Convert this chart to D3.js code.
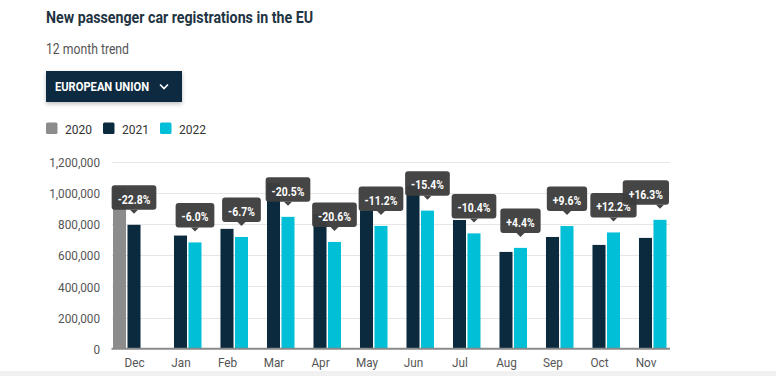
<!DOCTYPE html>
<html>
<head>
<meta charset="utf-8">
<script src="https://cdn.jsdelivr.net/npm/d3@7"></script>
<style>
  html, body { margin: 0; padding: 0; background: #fff; }
  svg { display: block; font-family: Roboto, "Noto Sans", sans-serif; }
</style>
</head>
<body>
<svg id="chart" width="776" height="376"></svg>
<script>
const months = ["Dec","Jan","Feb","Mar","Apr","May","Jun","Jul","Aug","Sep","Oct","Nov"];
const series = ["2020","2021","2022"];
const values2020 = [1029000, null, null, null, null, null, null, null, null, null, null, null];
const values2021 = [795000, 726000, 769000, 1064000, 863000, 887000, 1046000, 826000, 621000, 717000, 666000, 711000];
const values2022 = [null, 682000, 717000, 846000, 685000, 788000, 886000, 740000, 647000, 787000, 746000, 827000];
const changes = ["-22.8%","-6.0%","-6.7%","-20.5%","-20.6%","-11.2%","-15.4%","-10.4%","+4.4%","+9.6%","+12.2%","+16.3%"];
const yTicks = [0, 200000, 400000, 600000, 800000, 1000000, 1200000];
const colors = {"2020": "#8c8c8c", "2021": "#0b2a3d", "2022": "#00bfd6"};

const svg = d3.select("#chart");
const K = 0.87;
function condense(sel, k) {
  sel.each(function() {
    const w = this.getComputedTextLength();
    this.setAttribute("textLength", w * k);
    this.setAttribute("lengthAdjust", "spacingAndGlyphs");
  });
}

// Title & subtitle
svg.append("text").attr("x", 46).attr("y", 22.5)
  .attr("font-size", 16).attr("font-weight", 700).attr("fill", "#1f3443")
  .text("New passenger car registrations in the EU")
  .attr("textLength", 267).attr("lengthAdjust", "spacingAndGlyphs");
svg.append("text").attr("x", 46).attr("y", 54)
  .attr("font-size", 14).attr("fill", "#555")
  .text("12 month trend")
  .attr("textLength", 83).attr("lengthAdjust", "spacingAndGlyphs");

// Dropdown button
const defs = svg.append("defs");
const f = defs.append("filter").attr("id", "shadow").attr("x", "-10%").attr("y", "-20%").attr("width", "120%").attr("height", "150%");
f.append("feDropShadow").attr("dx", 0).attr("dy", 2).attr("stdDeviation", 2).attr("flood-color", "#000").attr("flood-opacity", 0.25);
svg.append("rect").attr("x", 46).attr("y", 71).attr("width", 136).attr("height", 31)
  .attr("fill", "#0b2b3f").attr("filter", "url(#shadow)");
svg.append("text").attr("x", 55).attr("y", 91).attr("font-size", 13).attr("font-weight", 700)
  .attr("fill", "#fff").text("EUROPEAN UNION")
  .attr("textLength", 94).attr("lengthAdjust", "spacingAndGlyphs");
svg.append("polyline").attr("points", "160,84.5 164,88.5 168,84.5")
  .attr("fill", "none").attr("stroke", "#fff").attr("stroke-width", 1.6);

// Legend
const legendX = [46, 103, 160];
series.forEach((s, i) => {
  svg.append("rect").attr("x", legendX[i]).attr("y", 122.5).attr("width", 11.5).attr("height", 11.5)
    .attr("rx", 1.5).attr("fill", colors[s]);
  svg.append("text").attr("x", legendX[i] + 19).attr("y", 133.5).attr("font-size", 13.5)
    .attr("fill", "#333").text(s).attr("textLength", 27).attr("lengthAdjust", "spacingAndGlyphs");
});

// Scales
const x0 = d3.scaleBand().domain(months).range([110.75, 668.75]).paddingInner(0.097).paddingOuter(0.0485);
const x1 = d3.scaleBand().domain(series).range([0, x0.bandwidth()]).paddingInner(0.1);
const y = d3.scaleLinear().domain([0, 1200000]).range([348.7, 161.7]);

// Gridlines
const plotLeft = 111.5, plotRight = 670;
svg.append("g").selectAll("line").data(yTicks.slice(1)).join("line")
  .attr("x1", plotLeft).attr("x2", plotRight)
  .attr("y1", d => Math.round(y(d)) + 0.5).attr("y2", d => Math.round(y(d)) + 0.5)
  .attr("stroke", "#e6e6e6").attr("stroke-width", 1);

// Y axis
const yAxis = svg.append("g").attr("transform", "translate(100,0)")
  .call(d3.axisLeft(y).tickValues(yTicks).tickSize(0).tickPadding(0).tickFormat(d3.format(",")));
yAxis.select(".domain").remove();
yAxis.selectAll("text").attr("font-size", 13.5).attr("fill", "#555").attr("font-family", "Roboto").attr("dy", "0.35em");
condense(yAxis.selectAll("text"), K);

// Bars
const rows = months.map((m, i) => ({month: m, "2020": values2020[i], "2021": values2021[i], "2022": values2022[i]}));
const groups = svg.append("g").selectAll("g").data(rows).join("g")
  .attr("transform", d => `translate(${x0(d.month)},0)`);
groups.selectAll("rect").data(d => series.map(s => ({s, v: d[s]})).filter(e => e.v != null)).join("rect")
  .attr("x", e => x1(e.s)).attr("width", x1.bandwidth())
  .attr("y", e => y(e.v)).attr("height", e => y(0) - y(e.v))
  .attr("fill", e => colors[e.s]);

// X axis line
svg.append("line").attr("x1", plotLeft).attr("x2", plotRight).attr("y1", 348.7).attr("y2", 348.7)
  .attr("stroke", "#8a8a8a").attr("stroke-width", 2);

// X axis labels (centered on middle slot)
const xAxis = svg.append("g").attr("transform", "translate(0,356)")
  .call(d3.axisBottom(d3.scalePoint().domain(months).range([x0(months[0]) + x1("2021") + x1.bandwidth()/2, x0(months[11]) + x1("2021") + x1.bandwidth()/2])).tickSize(0).tickPadding(0));
xAxis.select(".domain").remove();
xAxis.selectAll("text").attr("font-size", 13.5).attr("fill", "#555").attr("font-family", "Roboto").attr("dy", "0.85em");
condense(xAxis.selectAll("text"), K);

// Change labels (tooltip-style boxes)
const tipG = svg.append("g");
rows.forEach((d, i) => {
  const s = d["2022"] != null ? "2022" : "2021";
  const v = d[s];
  const cx = x0(d.month) + x1(s) + x1.bandwidth() / 2;
  const top = y(v);
  const g = tipG.append("g");
  const rect = g.append("rect");
  const t = g.append("text").attr("font-size", 13).attr("font-weight", 700).attr("fill", "#fff")
    .attr("text-anchor", "middle").text(changes[i]);
  const w0 = t.node().getComputedTextLength();
  const tw = w0 * 0.8;
  t.attr("textLength", tw).attr("lengthAdjust", "spacingAndGlyphs");
  const bw = tw + 12, bh = 24.5;
  let bx = cx - bw / 2;
  if (bx + bw > plotRight - 1) bx = plotRight - 1 - bw;
  const by = top - 15 - bh;
  rect.attr("x", bx).attr("y", by).attr("width", bw).attr("height", bh).attr("rx", 3)
    .attr("fill", "#3d3d3d").attr("fill-opacity", 0.96);
  g.insert("path", "text").attr("d", `M${cx - 4},${by + bh} L${cx},${by + bh + 4} L${cx + 4},${by + bh} Z`)
    .attr("fill", "#3d3d3d").attr("fill-opacity", 0.96);
  t.attr("x", bx + bw / 2).attr("y", by + 18.2);
});

// Bottom band
svg.append("rect").attr("x", 0).attr("y", 371).attr("width", 776).attr("height", 5).attr("fill", "#f1f1f1");
</script>
</body>
</html>
